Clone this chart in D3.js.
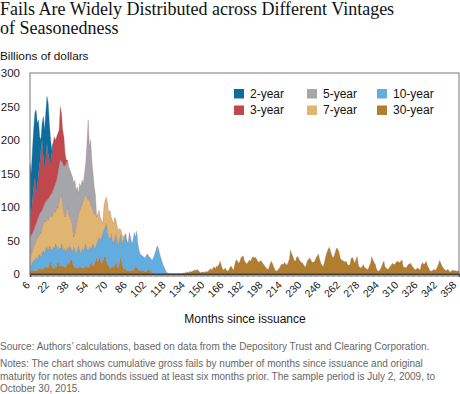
<!DOCTYPE html>
<html>
<head>
<meta charset="utf-8">
<script src="https://cdn.jsdelivr.net/npm/d3@7"></script>
<style>
body{margin:0;background:#fff}
svg text{font-family:"Liberation Sans",Arial,sans-serif}
</style>
</head>
<body>
<svg width="460" height="394"></svg>
<script>
const svg = d3.select('svg');
const margin = {top: 73, right: 1, bottom: 120, left: 30};
const plotRight = 459, plotBottom = 274;

// months since issuance run 6..360, every series starts at month 6
const firstMonth = 6, lastMonth = 360;
const xTickLabels = [6,22,38,54,70,86,102,118,134,150,166,182,198,214,230,246,262,278,294,310,326,342,358];
const yTickLabels = [0,50,100,150,200,250,300];

// billions of dollars, one value per month starting at month 6
const y2 = [65,65,75,85,95,125,95,80,40,15,25,60,55,70,70,75,55,35,5];
const y3 = [45,27,50,65,75,45,50,65,75,93,
  105,75,55,62,85,68,55,47,60,70,
  75,65,65,60,55,80,72,50,45,18,
  5];
const y5 = [30,28,25,25,25,25,25,30,28,32,
  25,25,25,30,25,32,30,30,35,35,
  35,43,40,52,50,55,48,60,70,77,
  70,70,70,70,70,70,80,80,55,50,
  30,40,30,35,25,35,45,80,120,75,
  95,70,55,40,30];
const y7 = [10,18,17,20,23,25,35,27,32,35,
  38,40,50,40,45,45,43,50,50,50,
  57,47,58,62,70,77,75,65,55,47,
  63,60,54,43,42,43,15,22,40,45,
  48,59,70,67,75,75,75,77,75,75,
  69,58,50,50,50,40,40,40,35,25,
  15,35,40,39,43,35,43,25,30,30,
  30,20,22,23,13,8,13,6,3];
const y10 = [10,8,12,15,18,19,15,20,23,16,
  26,25,22,26,30,26,28,20,23,31,
  30,33,32,14,25,27,32,30,21,29,
  20,24,22,22,14,14,28,28,21,24,
  34,24,20,29,24,32,32,28,26,28,
  20,24,34,26,18,21,32,29,28,40,
  42,41,39,56,48,43,44,50,38,36,
  41,42,36,34,35,32,30,41,48,52,
  45,39,58,50,39,45,54,43,54,38,
  29,25,22,23,20,21,24,24,18,20,
  19,19,24,29,36,42,38,30,24,18,
  13,9,5,2,1];
const y30 = [5,4,6,5,4,6,5,8,7,9,
  6,10,8,12,10,9,14,18,12,9,
  8,12,10,22,15,11,13,10,14,9,
  12,16,14,20,24,18,12,10,9,11,
  8,12,10,9,11,8,13,10,9,12,
  16,18,11,14,20,24,18,26,22,15,
  18,24,31,20,14,12,8,10,12,9,
  14,18,12,8,20,26,15,9,7,8,
  5,6,4,5,6,5,8,12,10,7,
  6,5,6,4,5,3,4,6,8,5,
  3,2,1,1,0,0,0,0,0,0,
  0,0,0,0,0,0,0,0,0,0,
  0,0,0,1,0,0,1,1,2,2,
  3,2,4,3,4,5,6,5,7,5,
  3,2,3,3,2,4,3,4,6,8,
  6,9,11,8,12,11,15,19,12,7,
  6,9,6,4,6,10,12,8,6,14,
  21,20,16,18,24,26,27,19,17,15,
  18,21,19,23,26,24,25,22,19,17,
  20,19,16,14,11,9,7,8,14,19,
  16,11,7,4,5,7,9,13,15,14,
  17,15,13,17,22,36,30,26,20,19,
  25,26,22,19,17,16,13,10,14,20,
  22,24,20,17,18,19,24,27,30,22,
  16,13,11,18,26,32,37,40,34,28,
  24,27,33,39,37,33,24,21,20,19,
  18,19,14,13,14,23,25,21,16,22,
  26,13,10,9,11,14,10,9,7,7,
  12,16,26,21,17,14,7,5,4,7,
  10,16,19,11,9,7,8,11,13,16,
  15,14,17,19,18,17,19,21,11,10,
  9,11,14,15,16,13,10,8,6,8,
  9,7,6,14,17,14,16,19,12,9,
  5,4,5,7,6,6,10,14,20,16,
  12,9,7,5,6,7,4,3,5,6,
  5,5,4,5,4];

// stacking order, bottom to top
const keys = ['30-year','10-year','7-year','5-year','3-year','2-year'];
const seriesData = {'2-year':y2,'3-year':y3,'5-year':y5,'7-year':y7,'10-year':y10,'30-year':y30};
const colorScale = d3.scaleOrdinal()
  .domain(['2-year','3-year','5-year','7-year','10-year','30-year'])
  .range(['#0f6b9b','#c0474b','#a5a5ac','#e0b571','#62addf','#b17e2f']);

const months = d3.range(firstMonth, lastMonth + 1);
const table = months.map((m, i) => {
  const row = {month: m};
  keys.forEach(k => row[k] = seriesData[k][i] || 0);
  return row;
});

const x = d3.scaleLinear().domain([firstMonth, lastMonth]).range([margin.left, plotRight]);
const y = d3.scaleLinear().domain([0, 300]).range([plotBottom, margin.top]);

const stacked = d3.stack().keys(keys)(table);

/* title */
const titleText = (txt, yy) => svg.append('text')
  .attr('x', 0).attr('y', yy)
  .style('font-family', '"Liberation Serif",serif').style('font-size', '18px')
  .attr('fill', '#111')
  .text(txt);
titleText('Fails Are Widely Distributed across Different Vintages', 15);
titleText('of Seasonedness', 34);

svg.append('text').attr('x', 0).attr('y', 60)
  .style('font-size', '11.8px').attr('fill', '#111')
  .text('Billions of dollars');

/* areas */
stacked.forEach(s => {
  const len = seriesData[s.key].length;
  const area = d3.area()
    .defined(d => d.data.month <= firstMonth + len)
    .x(d => x(d.data.month))
    .y0(d => y(d[0]))
    .y1(d => y(d[1]));
  svg.append('path')
    .datum(s)
    .attr('d', area)
    .attr('fill', colorScale(s.key))
    .attr('stroke', s.key === '2-year' ? colorScale(s.key) : '#a8767e')
    .attr('stroke-width', 0.4)
    .attr('stroke-opacity', 0.8);
});

/* frame */
svg.append('rect')
  .attr('x', margin.left).attr('y', margin.top)
  .attr('width', plotRight - margin.left).attr('height', plotBottom - margin.top)
  .attr('fill', 'none').attr('stroke', '#777').attr('stroke-width', 1);

/* x axis: a tick every month */
const xAxis = d3.axisBottom(x).tickValues(months).tickSize(3).tickFormat('');
const gx = svg.append('g').attr('transform', `translate(0,${plotBottom})`).call(xAxis);
gx.select('.domain').attr('stroke', '#222').attr('stroke-width', 1.5);
gx.selectAll('.tick line').attr('stroke', '#666').attr('stroke-width', 0.6);

svg.append('g').selectAll('text')
  .data(xTickLabels)
  .join('text')
  .attr('transform', d => `translate(${x(d) - 2},${plotBottom + 9}) rotate(-45)`)
  .attr('text-anchor', 'end')
  .attr('dy', '0.35em')
  .style('font-size', '10.5px')
  .attr('fill', '#222')
  .text(d => d);

/* y axis labels */
svg.append('g').selectAll('text')
  .data(yTickLabels)
  .join('text')
  .attr('x', 20)
  .attr('y', d => y(d))
  .attr('dy', '0.35em')
  .attr('text-anchor', 'end')
  .style('font-size', '11.5px')
  .attr('fill', '#222')
  .text(d => d);

svg.append('text')
  .attr('x', 245).attr('y', 323)
  .attr('text-anchor', 'middle')
  .style('font-size', '12px').attr('fill', '#111')
  .text('Months since issuance');

/* legend */
const legendCols = [['2-year','3-year'],['5-year','7-year'],['10-year','30-year']];
const colX = [234, 307, 377];
legendCols.forEach((col, ci) => {
  col.forEach((k, ri) => {
    const g = svg.append('g').attr('transform', `translate(${colX[ci]},${89 + ri * 16.5})`);
    g.append('rect').attr('width', 10).attr('height', 9.5).attr('fill', colorScale(k));
    g.append('text').attr('x', 16).attr('y', 8.7)
      .style('font-size', '12px').attr('fill', '#111').text(k);
  });
});

/* notes */
const noteLines = [
  ['Source: Authors\u2019 calculations, based on data from the Depository Trust and Clearing Corporation.', 350],
  ['Notes: The chart shows cumulative gross fails by number of months since issuance and original', 367],
  ['maturity for notes and bonds issued at least six months prior. The sample period is July 2, 2009, to', 380],
  ['October 30, 2015.', 392]
];
svg.append('g').selectAll('text')
  .data(noteLines)
  .join('text')
  .attr('x', 0).attr('y', d => d[1])
  .style('font-size', '10px').attr('fill', '#666')
  .text(d => d[0]);
</script>
</body>
</html>
